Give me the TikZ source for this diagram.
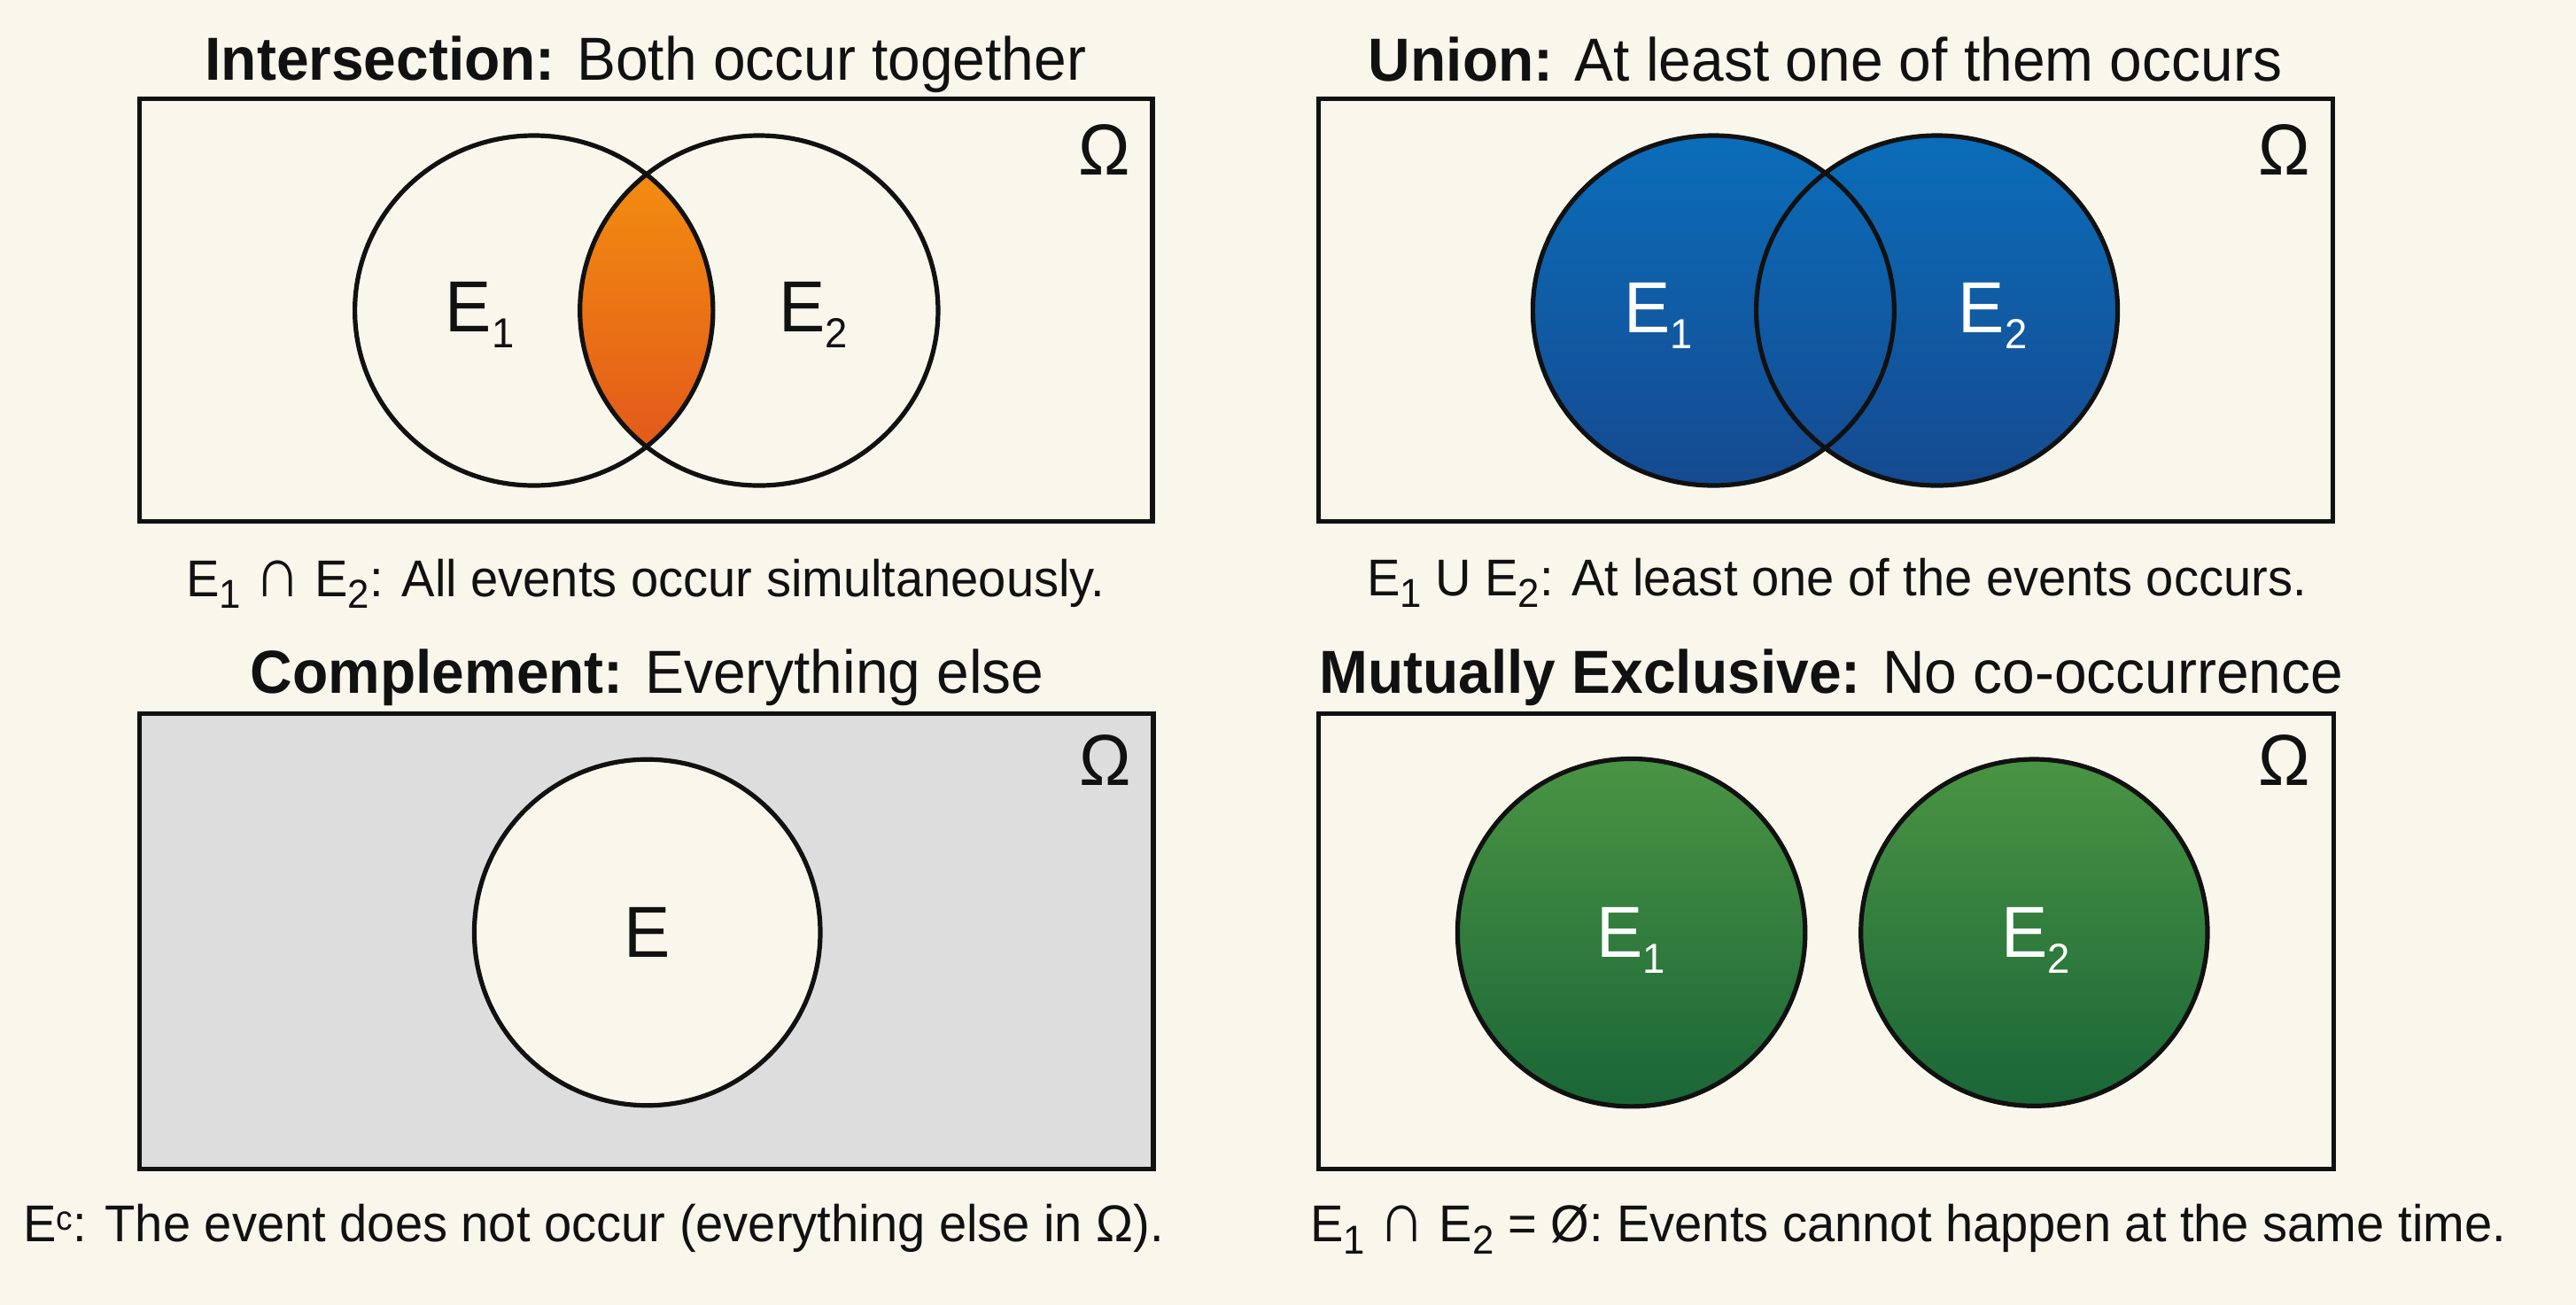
\documentclass[tikz,border=0pt]{standalone}
\usepackage{fontspec}
\setmainfont{Liberation Sans}[FakeStretch=0.96]
\definecolor{bg}{HTML}{F9F7EC}
\definecolor{inkc}{HTML}{111111}
\definecolor{grayfill}{HTML}{DDDDDD}
\definecolor{orT}{HTML}{F5930F}
\definecolor{orB}{HTML}{E0531B}
\definecolor{blT}{HTML}{0B6DB9}
\definecolor{blB}{HTML}{154A90}
\definecolor{grT}{HTML}{4A9444}
\definecolor{grB}{HTML}{1A6637}
\newcommand\lowidx[1]{\raisebox{-0.22em}{\scalebox{0.58}{#1}}}
\newcommand\capidx[1]{\raisebox{-0.23em}{\scalebox{0.78}{#1}}}
\newcommand\upidx[1]{\raisebox{0.22em}{\scalebox{0.66}{#1}}}
\newcommand\capsym[1]{\scalebox{1.3}[1.38]{#1}}
\begin{document}
\begin{tikzpicture}[x=1pt,y=1pt,
  frame/.style={draw=inkc, line width=2.8pt},
  ring/.style={draw=inkc, line width=2.8pt},
  ttl/.style={font=\fontsize{37}{44}\selectfont, anchor=base, inner sep=0pt, text=inkc},
  capt/.style={font=\fontsize{31.5}{38}\selectfont, anchor=base, inner sep=0pt, text=inkc},
  elab/.style={font=\fontsize{44}{52}\selectfont, anchor=base, inner sep=0pt},
  omg/.style={font=\fontsize{44}{52}\selectfont, anchor=base, inner sep=0pt, text=inkc}]
\fill[bg] (0,0) rectangle (1568,-794);
\useasboundingbox (0,0) rectangle (1568,-794);

% ---------- Panel 1: Intersection ----------
\node[ttl] (t1) at (393,-49) {\textbf{Intersection:} Both occur together};
\draw[frame] (85,-60.2) rectangle (701.5,-317.5);
\begin{scope}
  \clip (325,-189) ellipse [x radius=109, y radius=106.5];
  \shade[top color=orT, bottom color=orB] (462,-189) ellipse [x radius=109, y radius=106.5];
\end{scope}
\draw[ring] (325,-189) ellipse [x radius=109, y radius=106.5];
\draw[ring] (462,-189) ellipse [x radius=109, y radius=106.5];
\node[elab, text=inkc] (a1) at (292,-202.2) {E\lowidx{1}};
\node[elab, text=inkc] (a2) at (495,-202.2) {E\lowidx{2}};
\node[omg] (o1) at (672.5,-106.6) {Ω};
\node[capt] (c1) at (393,-363) {E\capidx{1} \capsym{∩} E\capidx{2}: All events occur simultaneously.};

% ---------- Panel 2: Union ----------
\node[ttl] (t2) at (1111,-49.4) {\textbf{Union:} At least one of them occurs};
\draw[frame] (802.5,-60.2) rectangle (1420,-317.5);
\shade[top color=blT, bottom color=blB] (1043,-189) ellipse [x radius=110, y radius=106.5];
\shade[top color=blT, bottom color=blB] (1179,-189) ellipse [x radius=110, y radius=106.5];
\draw[ring] (1043,-189) ellipse [x radius=110, y radius=106.5];
\draw[ring] (1179,-189) ellipse [x radius=110, y radius=106.5];
\node[elab, text=white] (b1) at (1009.5,-202.5) {E\lowidx{1}};
\node[elab, text=white] (b2) at (1213,-202.5) {E\lowidx{2}};
\node[omg] (o2) at (1390.5,-106.6) {Ω};
\node[capt] (c2) at (1118,-362.5) {E\capidx{1} U E\capidx{2}: At least one of the events occurs.};

% ---------- Panel 3: Complement ----------
\node[ttl] (t3) at (394,-422) {\textbf{Complement:} Everything else};
\draw[frame, fill=grayfill] (85,-434.3) rectangle (702,-711.5);
\draw[ring, fill=bg] (394,-567.5) circle [radius=105.3];
\node[elab, text=inkc] (e3) at (394,-582.5) {E};
\node[omg] (o3) at (672.8,-477.9) {Ω};
\node[capt] (c3) at (361.4,-755.5) {E\upidx{c}: The event does not occur (everything else in Ω).};

% ---------- Panel 4: Mutually exclusive ----------
\node[ttl] (t4) at (1114.6,-422) {\textbf{Mutually Exclusive:} No co-occurrence};
\draw[frame] (802.5,-434.3) rectangle (1420.3,-711.5);
\shade[top color=grT, bottom color=grB] (993,-567.6) circle [radius=105.8];
\shade[top color=grT, bottom color=grB] (1238.2,-567.6) circle [radius=105.5];
\draw[ring] (993,-567.6) circle [radius=105.8];
\draw[ring] (1238.2,-567.6) circle [radius=105.5];
\node[elab, text=white] (d1) at (992.8,-582.5) {E\lowidx{1}};
\node[elab, text=white] (d2) at (1239,-582.5) {E\lowidx{2}};
\node[omg] (o4) at (1390.5,-477.9) {Ω};
\node[capt] (c4) at (1161.6,-755.8) {E\capidx{1} \capsym{∩} E\capidx{2} = Ø: Events cannot happen at the same time.};
\end{tikzpicture}
\end{document}
